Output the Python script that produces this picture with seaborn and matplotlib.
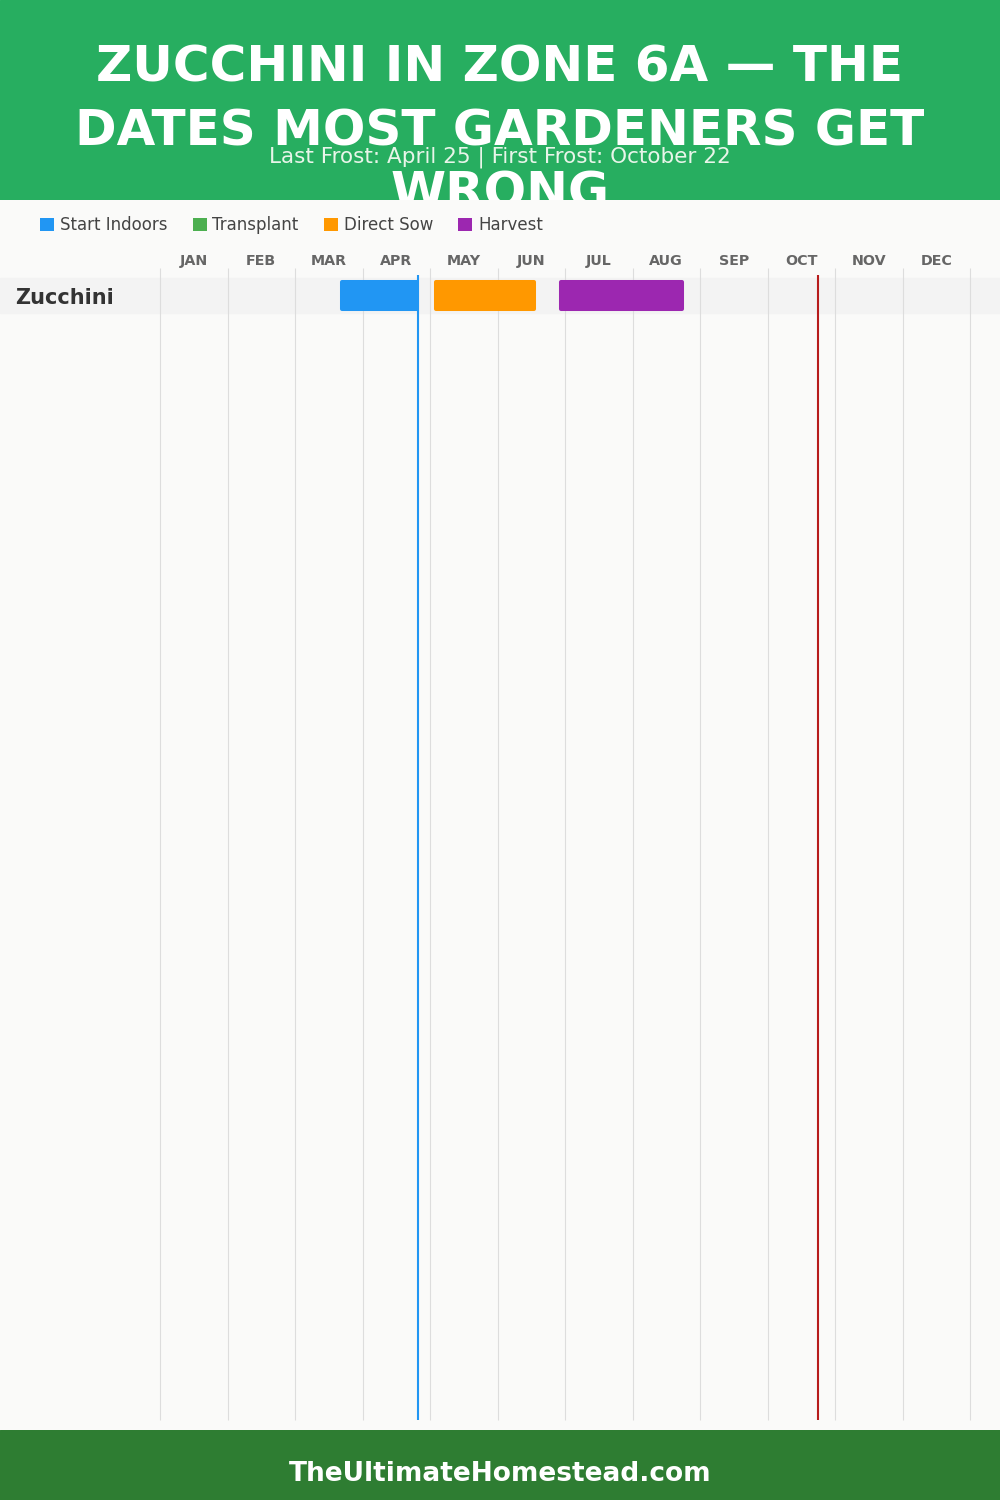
import matplotlib
matplotlib.use("Agg")
import matplotlib.pyplot as plt
import seaborn as sns
import pandas as pd
from matplotlib.patches import Patch

# ---------------- data ----------------
title_lines = ["ZUCCHINI IN ZONE 6A \u2014 THE", "DATES MOST GARDENERS GET", "WRONG"]
subtitle = "Last Frost: April 25 | First Frost: October 22"
footer = "TheUltimateHomestead.com"
months = ["JAN", "FEB", "MAR", "APR", "MAY", "JUN", "JUL", "AUG", "SEP", "OCT", "NOV", "DEC"]
crops = ["Zucchini"]
stages = ["Start Indoors", "Transplant", "Direct Sow", "Harvest"]
stage_colors = ["#2196F3", "#4CAF50", "#FF9800", "#9C27B0"]
# month positions (0 = Jan 1, 12 = Dec 31)
start_indoors = [(2.67, 3.84)]
transplant = [None]
direct_sow = [(4.06, 5.57)]
harvest = [(5.91, 7.76)]
last_frost = 3.82
first_frost = 9.75

# ---------------- style ----------------
sns.set_theme(style="white")
plt.rcParams["font.family"] = ["DejaVu Sans"]

W, H = 1000, 1500
fig = plt.figure(figsize=(10, 15), dpi=100)
BG = "#FAFAF9"
fig.patch.set_facecolor(BG)

def fax(x0, y0, w, h, **kw):
    # axes placed in pixel coordinates from top-left
    return fig.add_axes([x0 / W, 1 - (y0 + h) / H, w / W, h / H], **kw)

# header
hax = fax(0, 0, 1000, 200)
hax.set_facecolor("#27AE60")
hax.set_xlim(0, 1000); hax.set_ylim(200, 0)
hax.set_axis_off()
hax.add_patch(plt.Rectangle((0, 0), 1000, 200, color="#27AE60", zorder=0))
for yy, line in zip([63, 126, 188], title_lines):
    hax.text(500, yy, line, ha="center", va="center_baseline", color="white",
             fontsize=36, fontweight="bold", clip_on=True, zorder=2)
hax.text(500, 155, subtitle, ha="center", va="center_baseline", color="#E8F5E9",
         fontsize=15.5, zorder=3, clip_on=True)

# main chart
MX0, MSTEP = 160, 67.5
ax = fax(0, 200, 1000, 1230)
ax.set_facecolor(BG)
ax.set_xlim(-MX0 / MSTEP, (1000 - MX0) / MSTEP)
ax.set_ylim(1230 + 200, 200)
ax.set_axis_off()

# grid lines
ax.vlines(range(0, 13), 268, 1420, color="#DDDDDD", lw=0.8, zorder=1)

row_top, row_h = 278, 35
# month labels
for i, m in enumerate(months):
    ax.text(i + 0.5, 259, m, ha="center", va="center_baseline", fontsize=10.3,
            fontweight="bold", color="#666666")

# rows
df_rows = []
for i, c in enumerate(crops):
    yc = row_top + i * row_h + row_h / 2
    ax.axhspan(row_top + i * row_h, row_top + (i + 1) * row_h, color="#F3F3F3", zorder=0.5)
    ax.text(15 / MSTEP - MX0 / MSTEP, yc, c, ha="left", va="center_baseline",
            fontsize=15, fontweight="bold", color="#333333", zorder=3)
    for sname, col, series in zip(stages, stage_colors,
                                  [start_indoors, transplant, direct_sow, harvest]):
        seg = series[i]
        if seg is None:
            continue
        df_rows.append(dict(crop=c, stage=sname, start=seg[0], end=seg[1], y=yc, color=col))

df = pd.DataFrame(df_rows)
pad_x = 2 / MSTEP
for _, r in df.iterrows():
    ax.barh(r["y"], r["end"] - r["start"] - 2 * pad_x, left=r["start"] + pad_x, height=31 - 4,
            color=r["color"], edgecolor=r["color"], linewidth=2.9, joinstyle="round", zorder=2)

# frost lines
ax.vlines([last_frost], 275, 1420, color="#2196F3", lw=1.5, zorder=4)
ax.vlines([first_frost], 275, 1420, color="#B71C1C", lw=1.5, zorder=4)

# legend
handles = [Patch(facecolor=c, edgecolor="none", label=s) for s, c in zip(stages, stage_colors)]
leg = fig.legend(handles=handles, loc="center left", bbox_to_anchor=(40 / W, 1 - 225 / H),
                 ncol=4, frameon=False, fontsize=12, handlelength=0.85, handleheight=0.85,
                 handletextpad=0.35, columnspacing=1.5, borderpad=0, borderaxespad=0)
for t in leg.get_texts():
    t.set_color("#444444")

# footer
fax_ = fax(0, 1430, 1000, 70)
fax_.set_axis_off()
fax_.set_xlim(0, 1000); fax_.set_ylim(70, 0)
fax_.add_patch(plt.Rectangle((0, 0), 1000, 70, color="#2E7D32"))
fax_.text(500, 41, footer, ha="center", va="center_baseline", color="white",
          fontsize=19, fontweight="bold")

fig.savefig("out.png", dpi=100, facecolor=BG)
